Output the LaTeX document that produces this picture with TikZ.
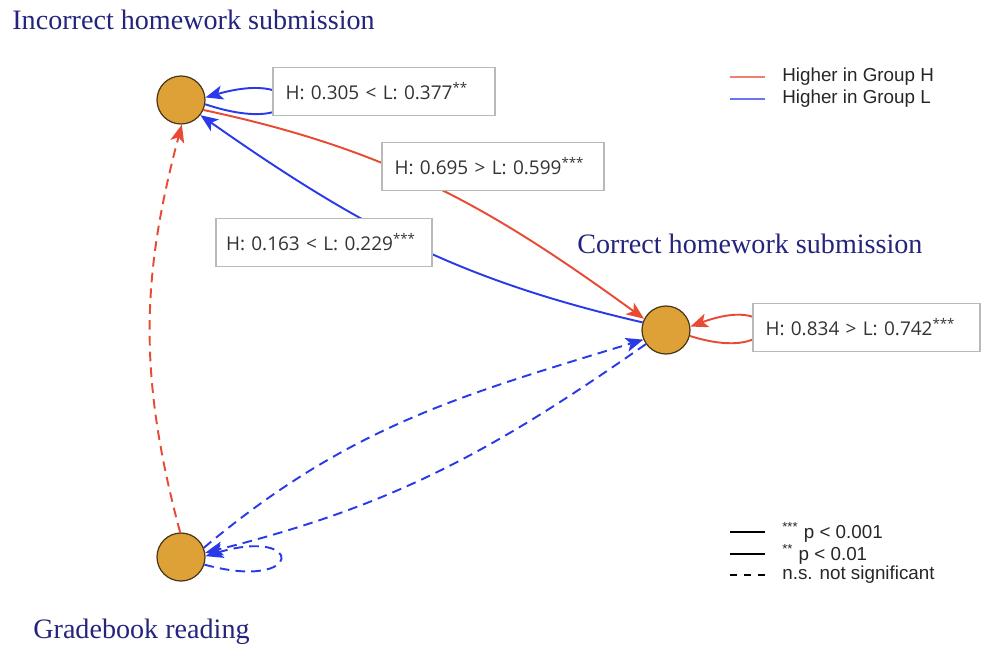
\documentclass[tikz,border=0pt]{standalone}
\usepackage{fontspec}
\setmainfont{Liberation Serif}
\newfontfamily\valuefont{Open Sans}
\newfontfamily\legendfont{Liberation Sans}
\usetikzlibrary{arrows.meta, positioning}

\definecolor{stateFill}{RGB}{221,161,55}
\definecolor{stateLine}{RGB}{75,55,25}
\definecolor{titleBlue}{RGB}{36,36,125}
\definecolor{edgeRed}{RGB}{232,74,52}
\definecolor{edgeBlue}{RGB}{42,58,232}

\tikzset{
    >=Latex,
    tr_state/.style={
        circle,
        draw=stateLine,
        fill=stateFill,
        line width=0.7pt,
        minimum size=0.96cm,
        inner sep=0pt
    },
    tr_title/.style={
        text=titleBlue,
        font=\fontsize{16}{18}\selectfont,
        inner sep=0pt,
        anchor=base west
    },
    tr_value/.style={
        rectangle,
        draw=gray!55,
        fill=white,
        line width=0.6pt,
        minimum height=0.96cm,
        inner xsep=0.25cm,
        text width=3.94cm,
        align=left,
        text=black!80,
        font=\valuefont\fontsize{10.8}{12}\selectfont
    },
    tr_arrow/.style={
        -{Stealth[length=10pt, width=8pt, inset=2.5pt]},
        line width=1.1pt
    },
    tr_higher_h/.style={tr_arrow, draw=edgeRed},
    tr_higher_l/.style={tr_arrow, draw=edgeBlue},
    tr_ns/.style={dash pattern=on 5.5pt off 3.5pt},
    tr_legend/.style={
        anchor=west,
        inner sep=0pt,
        text=black!85,
        font=\legendfont\fontsize{10.7}{12}\selectfont
    },
    tr_legend_line/.style={line width=0.6pt}
}

\begin{document}
\begin{tikzpicture}

\useasboundingbox (0,0) rectangle (19.64,-12.9);

% States
\node[tr_state] (incorrect) at (3.62,-2.0) {};
\node[tr_state] (correct) at (13.32,-6.6) {};
\node[tr_state] (gradebook) at (3.62,-11.14) {};

\node[tr_title] (titleIncorrect) at (0.24,-0.58) {Incorrect homework submission};
\node[tr_title] (titleCorrect) at (11.54,-5.06) {Correct homework submission};
\node[tr_title] (titleGradebook) at (0.66,-12.76) {Gradebook reading};

% Transitions
\draw[tr_higher_h] (incorrect.-24) to[out=-12, in=144] (correct.153);
\draw[tr_higher_l] (correct.162) to[out=167, in=-35] (incorrect.-38);
\draw[tr_higher_h, tr_ns] (gradebook.92) to[out=105, in=-105] (incorrect.-88);
\draw[tr_higher_l, tr_ns] (gradebook.22) to[out=40, in=197] (correct.203);
\draw[tr_higher_l, tr_ns] (correct.215) to[out=215, in=14] (gradebook.10);

% Self loops
\draw[tr_higher_l] (incorrect.-10) .. controls +(2.1,-0.7) and +(2.1,0.6) .. (incorrect.6);
\draw[tr_higher_h] (correct.-14) .. controls +(1.9,-0.6) and +(1.9,0.7) .. (correct.8);
\draw[tr_higher_l, tr_ns] (gradebook.-18) .. controls +(2.0,-0.55) and +(2.0,0.6) .. (gradebook.2);

% Transition probabilities
\node[tr_value] (valII) at (7.68,-1.83) {H: 0.305 < L: 0.377\textsuperscript{**}};
\node[tr_value] (valIC) at (9.86,-3.33) {H: 0.695 > L: 0.599\textsuperscript{***}};
\node[tr_value, inner xsep=0.2cm, text width=3.92cm] (valCI) at (6.48,-4.85) {H: 0.163 < L: 0.229\textsuperscript{***}};
\node[tr_value, text width=4.04cm] (valCC) at (17.33,-6.55) {H: 0.834 > L: 0.742\textsuperscript{***}};

% Legend
\node[tr_legend] (legH) at (15.64,-1.54) {Higher in Group H};
\node[tr_legend, below=0.44cm of legH.west, anchor=west] (legL) {Higher in Group L};
\draw[tr_legend_line, draw=edgeRed!70] ([xshift=-0.34cm]legH.west) -- ++(-0.7,0);
\draw[tr_legend_line, draw=edgeBlue!70] ([xshift=-0.34cm]legL.west) -- ++(-0.7,0);

\node[tr_legend] (legThree) at (15.64,-10.64) {\textsuperscript{***} p < 0.001};
\node[tr_legend, below=0.44cm of legThree.west, anchor=west] (legTwo) {\textsuperscript{**} p < 0.01};
\node[tr_legend, below=0.42cm of legTwo.west, anchor=west] (legNs) {n.s. not significant};
\draw[tr_legend_line] ([xshift=-0.34cm]legThree.west) -- ++(-0.7,0);
\draw[tr_legend_line] ([xshift=-0.34cm]legTwo.west) -- ++(-0.7,0);
\draw[tr_legend_line, dash pattern=on 4pt off 3.9pt] ([xshift=-0.34cm]legNs.west) -- ++(-0.7,0);

\end{tikzpicture}
\end{document}
